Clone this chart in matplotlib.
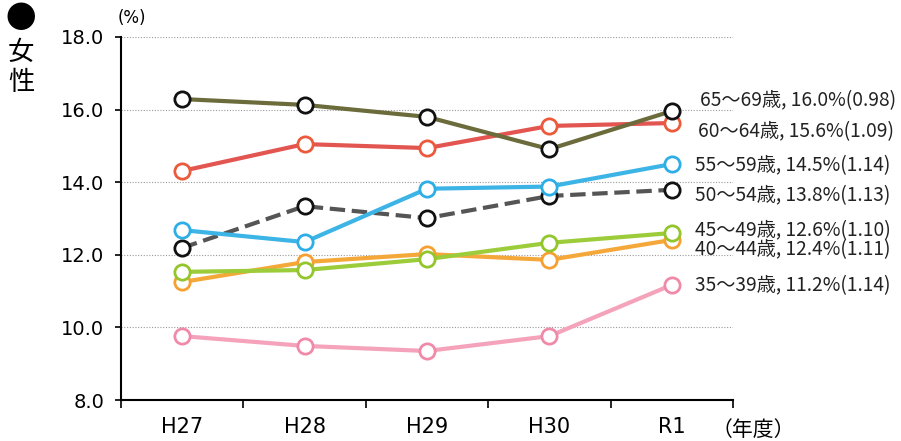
import matplotlib
matplotlib.use("Agg")
import matplotlib.pyplot as plt
from matplotlib import font_manager

plt.rcParams['font.family'] = ['Noto Sans CJK JP', 'DejaVu Sans']

years = ["H27", "H28", "H29", "H30", "R1"]
age_labels = ["65～69歳, 16.0%(0.98)", "60～64歳, 15.6%(1.09)", "55～59歳, 14.5%(1.14)",
              "50～54歳, 13.8%(1.13)", "45～49歳, 12.6%(1.10)", "40～44歳, 12.4%(1.11)",
              "35～39歳, 11.2%(1.14)"]
v65 = [16.29, 16.13, 15.80, 14.91, 15.96]
v60 = [14.31, 15.05, 14.94, 15.55, 15.63]
v55 = [12.68, 12.35, 13.82, 13.88, 14.50]
v50 = [12.19, 13.34, 13.01, 13.62, 13.79]
v45 = [11.53, 11.58, 11.88, 12.33, 12.60]
v40 = [11.25, 11.80, 12.02, 11.86, 12.41]
v35 = [9.76, 9.49, 9.35, 9.76, 11.17]
yticks = [8.0, 10.0, 12.0, 14.0, 16.0, 18.0]

names = {f.name for f in font_manager.fontManager.ttflist}
narrow = 'Liberation Sans Narrow' if 'Liberation Sans Narrow' in names else 'DejaVu Sans'

fig = plt.figure(figsize=(9.01, 4.41), dpi=100)
ax = fig.add_axes([121/901, 41/441, (733-121)/901, (400-37)/441])
x = list(range(len(years)))

series = [
    (v35, '#f4a3bb', '#f08aa8', '-'),
    (v40, '#f5a83a', '#f5a030', '-'),
    (v45, '#9ccc3a', '#93c52c', '-'),
    (v50, '#555555', '#111111', '--'),
    (v55, '#3cb4e6', '#2eaee6', '-'),
    (v60, '#e25550', '#ec5a3c', '-'),
    (v65, '#6b6b3c', '#111111', '-'),
]
for vals, lc, mc, ls in series:
    ax.plot(x, vals, color=lc, lw=3, ls=ls, marker='o', ms=11,
            mfc='white', mec=mc, mew=2, zorder=3)

ax.set_xlim(-0.5, 4.5)
ax.set_ylim(8.0, 18.0)
ax.set_yticks(yticks)
ax.set_yticklabels([f"{v:.1f}" for v in yticks], fontsize=14, family='DejaVu Sans')
ax.set_xticks([i - 0.5 for i in range(6)])
ax.set_xticklabels([])
ax.set_xticks(x, minor=True)
ax.set_xticklabels(years, minor=True, fontsize=15, family=narrow)
ax.tick_params(axis='x', which='minor', length=0, pad=12)
ax.tick_params(axis='x', which='major', length=6, direction='out', width=1.2)
ax.tick_params(axis='y', length=4, width=1.2, pad=8)
for s in ['top', 'right']:
    ax.spines[s].set_visible(False)
ax.spines['left'].set_linewidth(1.5)
ax.spines['bottom'].set_linewidth(1.5)
for yv in yticks[1:]:
    ax.axhline(yv, color='#999999', lw=0.8, ls=(0, (1, 1.5)), zorder=1)

label_y = [101, 132, 166, 196, 231, 250, 286]
label_x = [700, 698, 695, 695, 695, 695, 695]
for t, lx, ly in zip(age_labels, label_x, label_y):
    fig.text(lx/901, 1 - ly/441, t, fontsize=13.8, va='center', ha='left', color='#222222')

fig.text(118/901, 1 - 18/441, "(%)", fontsize=12, va='center', ha='left', family='DejaVu Sans')
fig.text(21/901, 1 - 20/441, "●", fontsize=22, va='center', ha='center')
fig.text(21/901, 1 - 52/441, "女", fontsize=19, va='center', ha='center')
fig.text(21/901, 1 - 82/441, "性", fontsize=19, va='center', ha='center')
fig.text(712/901, 1 - 430/441, "（年度）", fontsize=15, va='center', ha='left')

fig.savefig("out.png", dpi=100)
